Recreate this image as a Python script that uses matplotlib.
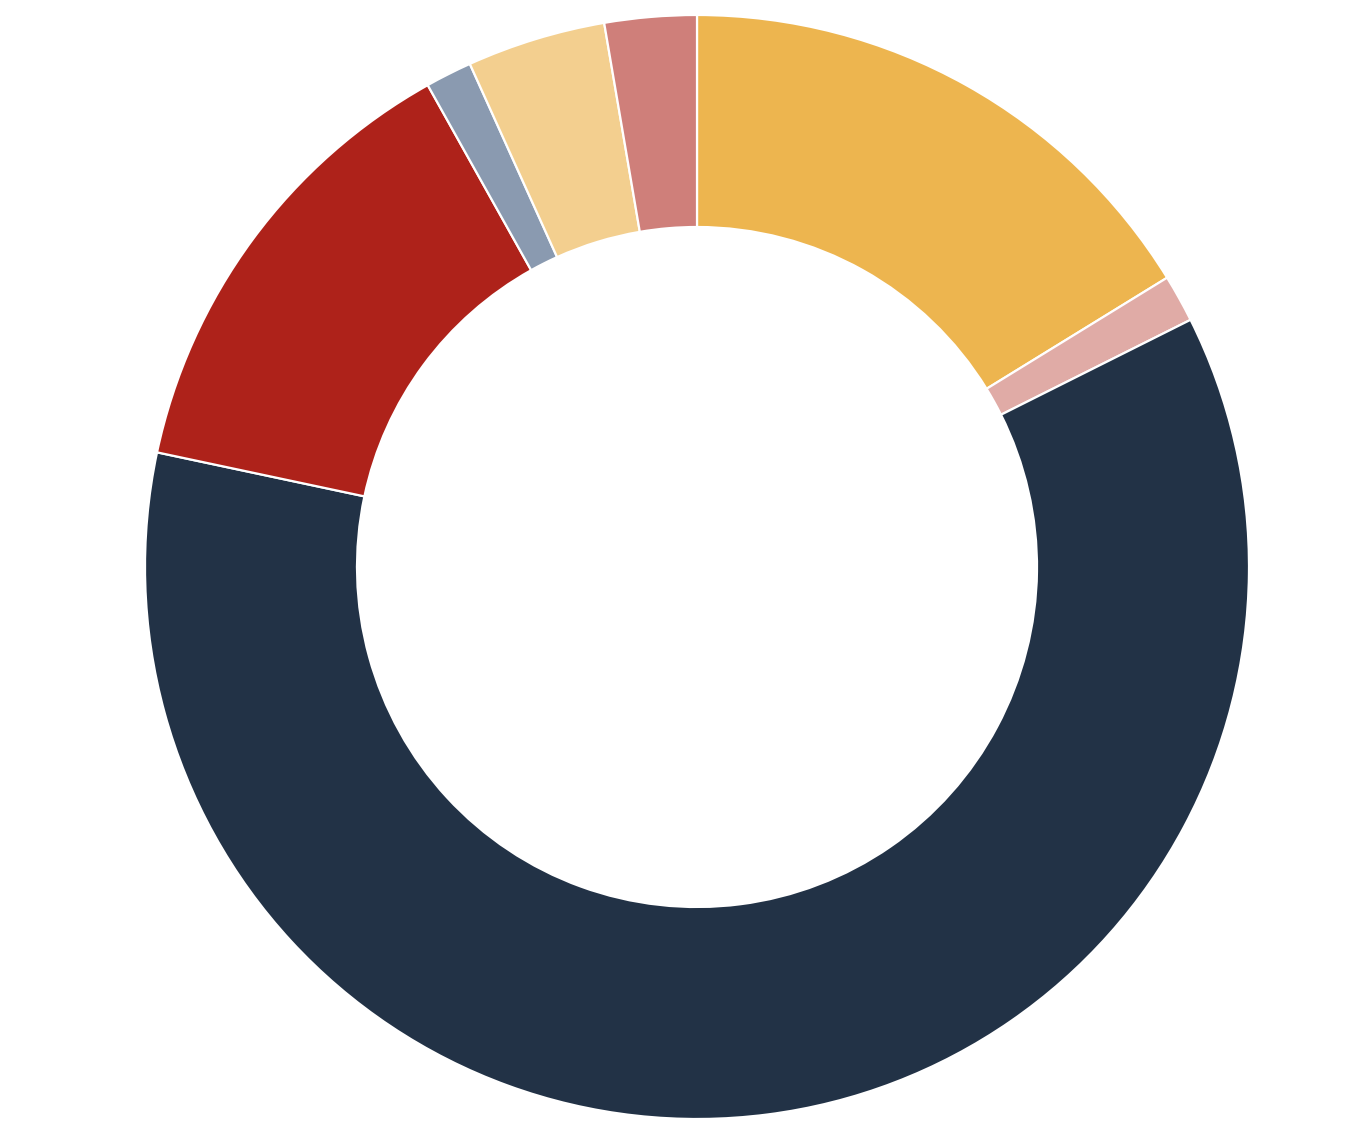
import matplotlib
matplotlib.use("Agg")
from matplotlib import pyplot as plt

# slice shares (percent), clockwise from 12 o'clock
labels = ["A", "B", "C", "D", "E", "F", "G"]
shares = [16.22, 1.39, 60.72, 13.56, 1.36, 4.06, 2.69]
colors = ["#EDB54F", "#E0ABA6", "#223246", "#AE221A", "#8A9AB0", "#F3CF8F", "#CF7F7A"]

W, H = 1358, 1138
fig = plt.figure(figsize=(W / 100, H / 100), dpi=100)
fig.patch.set_facecolor("white")

# donut centre at (697, 567) px, outer radius 552 px
r = 552
ax = fig.add_axes([(697 - r) / W, (H - 567 - r) / H, 2 * r / W, 2 * r / H])
ax.pie(shares, colors=colors, startangle=90, counterclock=False,
       wedgeprops=dict(width=(552 - 340) / 552, edgecolor="white", linewidth=1.6))
ax.set_xlim(-1, 1)
ax.set_ylim(-1, 1)
ax.set_aspect("equal")
ax.axis("off")

fig.savefig("out.png", dpi=100)
